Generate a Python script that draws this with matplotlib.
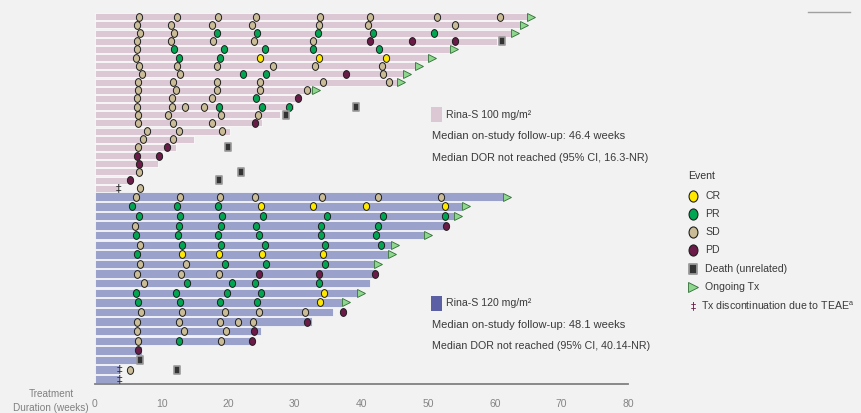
import matplotlib
matplotlib.use("Agg")
import matplotlib.pyplot as plt
from matplotlib.path import Path
import numpy as np

plt.rcParams['font.family'] = ['Liberation Sans Narrow', 'Liberation Sans', 'DejaVu Sans']

# ---------------- data ----------------
# Rina-S 100 mg/m2 cohort (one entry per patient, top to bottom)
d100_duration = [64.9, 63.8, 62.5, 60.3, 53.3, 50.0, 48.0, 46.3, 45.4, 32.6, 30.5,
                 29.8, 27.8, 25.0, 20.25, 14.9, 12.1, 10.15, 9.5, 7.15, 5.75, 3.5]
d100_resp_weeks = [
    [6.65, 12.3, 18.4, 24.1, 33.75, 41.25, 51.3, 60.75],
    [6.35, 11.45, 17.55, 23.5, 33.65, 40.95, 54.0],
    [6.8, 11.8, 18.35, 24.35, 33.4, 41.8, 50.85],
    [6.35, 11.4, 17.75, 23.8, 32.75, 41.25, 47.6, 54.0],
    [6.25, 11.8, 19.35, 25.45, 32.65, 42.65],
    [6.1, 12.6, 18.7, 24.8, 33.6, 43.75],
    [6.65, 12.25, 18.3, 26.75, 33.0, 43.15],
    [7.1, 12.75, 22.15, 25.6, 37.6, 43.3],
    [6.45, 11.7, 18.25, 24.8, 34.25, 44.15],
    [6.45, 12.1, 18.3, 24.8, 31.8],
    [6.3, 11.6, 17.55, 24.1, 30.5],
    [6.35, 11.6, 13.5, 16.35, 18.55, 25.0, 29.15],
    [6.45, 10.95, 18.85, 24.5],
    [6.5, 11.75, 17.5, 24.05],
    [7.75, 12.65, 19.05],
    [7.15, 11.75],
    [6.4, 10.85],
    [6.25, 9.55],
    [6.6],
    [6.6],
    [5.2],
    [6.8],
]
d100_resp_codes = ["SSSSSSSS", "SSSSSSS", "SSPPPPP", "SSSSSDDD", "SPPPPP", "SPPCCC",
                   "SSSSSS", "SSPPDS", "SSSSSS", "SSSSS", "SSSPD", "SSSSPPP", "SSSS",
                   "SSSD", "SSS", "SS", "SD", "DD", "D", "S", "D", "S"]
d100_ongoing = [1, 1, 1, 0, 1, 1, 1, 1, 1, 1, 0, 0, 0, 0, 0, 0, 0, 0, 0, 0, 0, 0]
d100_death = {3: 61.15, 11: 39.2, 12: 28.7, 16: 20.0, 19: 21.85, 20: 18.65}
d100_teae = {21: 3.5}

# Rina-S 120 mg/m2 cohort
d120_duration = [61.3, 55.05, 53.95, 52.7, 49.4, 44.4, 44.05, 41.9, 42.25, 41.25,
                 39.3, 37.0, 35.65, 32.5, 24.85, 24.0, 7.0, 7.0, 3.6, 3.6]
d120_resp_weeks = [
    [6.15, 12.75, 18.8, 23.95, 34.1, 42.5, 51.9],
    [5.6, 12.3, 18.4, 24.85, 32.75, 40.65, 52.55],
    [6.6, 12.75, 19.05, 25.15, 34.75, 43.3, 52.6],
    [6.0, 12.6, 18.9, 24.2, 33.95, 42.5, 52.65],
    [6.15, 12.5, 18.45, 24.6, 33.95, 42.2],
    [6.75, 13.0, 18.95, 25.5, 34.5, 43.0],
    [6.35, 13.1, 18.65, 25.0, 34.2],
    [6.75, 13.65, 19.45, 25.6, 34.55],
    [6.3, 12.95, 18.65, 24.6, 33.55, 42.0],
    [7.4, 13.75, 20.55, 24.05, 33.6],
    [6.15, 12.15, 19.8, 24.9, 34.4],
    [6.45, 12.75, 18.8, 24.3, 33.75],
    [6.95, 13.0, 19.45, 24.55, 31.45, 37.25],
    [6.35, 12.55, 18.8, 21.45, 23.7, 31.8],
    [6.35, 13.4, 19.6, 23.85],
    [6.45, 12.6, 18.85, 23.5],
    [6.5],
    [],
    [5.3],
    [],
]
d120_resp_codes = ["SSSSSSS", "PPPCCCC", "PPPPPPP", "SPPPPPD", "PPPPPP", "SPPPPP",
                   "PCCCC", "SSPPP", "SSSDDD", "SPPPP", "PPPPC", "PPPPC", "SSSSSD",
                   "SSSSSD", "SSSD", "SPSD", "D", "", "S", ""]
d120_ongoing = [1, 1, 1, 0, 1, 1, 1, 1, 0, 0, 1, 1, 0, 0, 0, 0, 0, 0, 0, 0]
d120_death = {17: 6.75, 18: 12.25}
d120_teae = {18: 3.6, 19: 3.6}

x_ticks = [0, 10, 20, 30, 40, 50, 60, 70, 80]

# ---------------- styling ----------------
W, H = 861, 413
BG = "#f2f2f2"
BAR100 = "#dcc7d5"
BAR120 = "#9aa2cc"
BOX120 = "#5b60a4"
RESP_COLORS = {"C": "#ffe800", "P": "#00a651", "S": "#c9bc96", "D": "#6b1b47"}
TEXT = "#3a3a3a"

circ = Path.unit_circle()
OVAL = Path(circ.vertices * np.array([0.8, 1.0]), circ.codes)
RECT = Path([(-0.8, -1), (0.8, -1), (0.8, 1), (-0.8, 1), (-0.8, -1)],
            [Path.MOVETO, Path.LINETO, Path.LINETO, Path.LINETO, Path.CLOSEPOLY])

fig = plt.figure(figsize=(W / 100, H / 100), dpi=100, facecolor=BG)
axis_y = 383.5
ax = fig.add_axes([95 / W, (H - axis_y) / H, 533 / W, axis_y / H])
ax.set_facecolor("none")
ax.set_xlim(0, 80)
ax.set_ylim(axis_y, 0)
for s in ("top", "left", "right"):
    ax.spines[s].set_visible(False)
ax.spines["bottom"].set_color("#808080")
ax.spines["bottom"].set_linewidth(1.3)
ax.set_yticks([])
ax.set_xticks(x_ticks)
ax.tick_params(axis="x", length=0, pad=11, labelsize=7.5, labelcolor="#858585")


def draw_group(y0, step, duration, weeks, codes, ongoing, death, teae, color):
    ys = y0 + step * np.arange(len(duration))
    ax.barh(ys, duration, height=step - 1.2, left=0, color=color,
            edgecolor="white", linewidth=0.5, zorder=1)
    for i, y in enumerate(ys):
        for wk, c in zip(weeks[i], codes[i]):
            ax.plot(wk, y, marker=OVAL, ms=5.6, mfc=RESP_COLORS[c], mec="#1e1e1e",
                    mew=0.7, zorder=4, clip_on=False)
        if ongoing[i]:
            ax.plot(duration[i] + 0.6, y, marker=">", ms=5.6, mfc="#8fd68f",
                    mec="#2f6f35", mew=0.6, zorder=4, clip_on=False)
        if i in death:
            ax.plot(death[i], y, marker=RECT, ms=5.8, mfc="#333333", mec="#9a9a9a",
                    mew=1.2, zorder=4, clip_on=False)
        if i in teae:
            ax.text(teae[i], y, "\u2021", ha="center", va="center", fontsize=8,
                    color="#2a2a2a", zorder=5, family="DejaVu Sans")


draw_group(16.7, 8.17, d100_duration, d100_resp_weeks, d100_resp_codes,
           d100_ongoing, d100_death, d100_teae, BAR100)
draw_group(196.7, 9.61, d120_duration, d120_resp_weeks, d120_resp_codes,
           d120_ongoing, d120_death, d120_teae, BAR120)


def ftext(x, y, s, **kw):
    kw.setdefault("fontsize", 7.6)
    kw.setdefault("color", TEXT)
    kw.setdefault("va", "center")
    fig.text(x / W, 1 - y / H, s, **kw)


def fbox(x, y, w, h, color):
    fig.patches.append(plt.Rectangle((x / W, 1 - (y + h) / H), w / W, h / H,
                                     transform=fig.transFigure, facecolor=color,
                                     edgecolor="none"))


# cohort annotations
fbox(431, 107, 11, 15, BAR100)
ftext(446, 115, "Rina-S 100 mg/m\u00b2")
ftext(432, 136, "Median on-study follow-up: 46.4 weeks", fontsize=8.0)
ftext(432, 158, "Median DOR not reached (95% CI, 16.3-NR)", fontsize=7.8)

fbox(431, 296, 11, 15, BOX120)
ftext(446, 303, "Rina-S 120 mg/m\u00b2")
ftext(432, 325, "Median on-study follow-up: 48.1 weeks", fontsize=8.0)
ftext(432, 346, "Median DOR not reached (95% CI, 40.14-NR)", fontsize=7.7)

# event key
ftext(688, 176, "Event", color="#333333")
key_items = [("C", "CR", 196), ("P", "PR", 214), ("S", "SD", 232), ("D", "PD", 250)]
for code, label, y in key_items:
    fig.lines.append(plt.Line2D([693 / W], [1 - y / H], transform=fig.transFigure,
                                marker=OVAL, ms=8, mfc=RESP_COLORS[code], mec="#1e1e1e",
                                mew=0.8, ls="none"))
    ftext(705, y, label)
fig.lines.append(plt.Line2D([693 / W], [1 - 269 / H], transform=fig.transFigure,
                            marker=RECT, ms=7.5, mfc="#333333", mec="#9a9a9a",
                            mew=1.3, ls="none"))
ftext(705, 269, "Death (unrelated)")
fig.lines.append(plt.Line2D([693 / W], [1 - 287 / H], transform=fig.transFigure,
                            marker=">", ms=6.5, mfc="#8fd68f", mec="#2f6f35",
                            mew=0.6, ls="none"))
ftext(705, 287, "Ongoing Tx")
ftext(693, 306, "\u2021", ha="center", family="DejaVu Sans", color="#6b1b47")
ftext(701, 306, "Tx discontinuation due to TEAE$^\\mathregular{a}$")

# axis title
ftext(51, 389, "Treatment\nDuration (weeks)", ha="center", va="top",
      color="#808080", fontsize=7.2, linespacing=1.5)

# small rule at top right
fig.lines.append(plt.Line2D([808 / W, 850 / W], [1 - 12 / H, 1 - 12 / H],
                            transform=fig.transFigure, color="#a0a0a0", lw=1.0))

fig.savefig("out.png", dpi=100, facecolor=BG)
